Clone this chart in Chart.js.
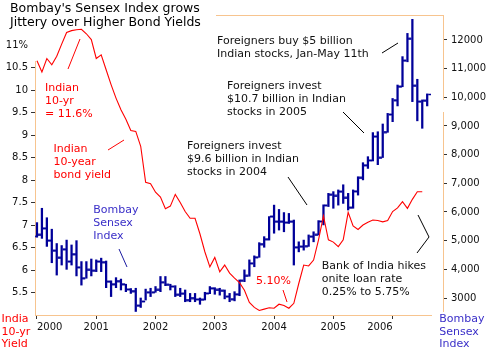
<!DOCTYPE html>
<html>
<head>
<meta charset="utf-8">
<script src="https://cdn.jsdelivr.net/npm/chart.js@4.4.1/dist/chart.umd.min.js"></script>
<style>
html,body{margin:0;padding:0;background:#fff;}
canvas{display:block;}
</style>
</head>
<body>
<canvas id="c" width="489" height="354"></canvas>
<script>
// ---- DATA (monthly, Jan 2000 = month 0) ----
const yearLabels = ['2000','2001','2002','2003','2004','2005','2006'];
const yearTickMonths = [0,12,24,36,48,60,72];
const leftTickValues = [5.5,6,6.5,7,7.5,8,8.5,9,9.5,10,10.5,11];
const leftTickLabels = ['5.5','6','6.5','7','7.5','8','8.5','9','9.5','10','10.5','11%'];
const rightTickValues = [3000,4000,5000,6000,7000,8000,9000,10000,11000,12000];
const rightTickLabels = ['3000','4,000','5,000','6,000','7,000','8,000','9,000','10,000','11,000','12000'];

const sensexOpen = [5150,5200,5430,5000,4650,4400,4700,4270,4530,4070,3690,3980,
 3950,4270,4250,3570,3480,3590,3480,3300,3240,2730,2880,3200,
 3200,3280,3550,3460,3400,3110,3150,2930,3000,2950,2940,3160,
 3340,3280,3250,3050,2960,3130,3600,3770,4210,4420,4880,5050,
 5840,5660,5660,5630,5660,4770,4790,4810,5140,5200,5670,6230,
 6600,6560,6710,6490,6150,6720,7190,7630,7800,8630,7890,8790,
 9400,9900,10370,11280,12040,10400,9850,9880];
const sensexHigh = [5630,6130,5800,5400,4900,4830,5020,4850,5000,4270,4270,4360,
 4330,4390,4290,3600,3710,3660,3480,3330,3340,3000,3310,3340,
 3400,3750,3750,3480,3430,3340,3280,3160,3160,3000,3200,3400,
 3360,3340,3280,3160,3220,3630,3980,4330,4470,4930,5140,5840,
 6240,6090,5980,5950,5720,4960,5020,5200,5310,5700,6250,6650,
 6710,6770,6950,6650,6770,7230,7720,7930,8770,8800,9070,9440,
 9960,10430,11420,12230,12720,10630,9910,10120];
const sensexLow = [5120,5080,4800,4230,3800,4150,4000,4150,3770,3450,3690,3770,
 3920,3920,3360,3050,3360,3280,3220,3160,2530,2670,2930,3050,
 3200,3220,3430,3280,3050,3050,2870,2870,2870,2780,2930,3150,
 3130,3100,2970,2870,2900,3080,3570,3760,4090,4420,4770,5020,
 5260,5370,5310,5600,4150,4610,4670,4800,4960,5200,5550,6190,
 6130,6240,6300,6070,6130,6590,7120,7520,7780,7650,7900,8780,
 9150,9700,10370,11240,9850,9180,8920,9700];
const sensexClose = [5200,5430,5000,4650,4400,4700,4270,4530,4070,3690,3980,3950,
 4270,4250,3570,3480,3590,3480,3300,3240,2730,2880,3200,3200,
 3280,3550,3460,3400,3110,3150,2930,3000,2950,2940,3160,3340,
 3280,3250,3050,2960,3130,3600,3770,4210,4420,4880,5050,5840,
 5660,5660,5630,5660,4770,4790,4810,5140,5200,5670,6230,6600,
 6560,6710,6490,6150,6720,7190,7630,7800,8630,7890,8790,9400,
 9900,10370,11280,12040,10400,9850,9880,10100];
const bondYield = [10.65,10.40,10.70,10.56,10.75,11.02,11.28,11.32,11.34,11.35,11.25,11.12,
 10.70,10.78,10.45,10.12,9.82,9.56,9.35,9.10,9.08,8.75,7.95,7.92,
 7.73,7.62,7.36,7.42,7.68,7.50,7.30,7.15,7.15,6.80,6.40,6.07,
 6.28,5.96,6.11,5.93,5.82,5.72,5.55,5.28,5.17,5.10,5.13,5.16,
 5.15,5.24,5.21,5.15,5.26,5.70,6.11,6.09,6.22,6.67,7.20,6.67,
 6.62,6.52,6.67,7.28,6.98,6.90,7.00,7.06,7.11,7.10,7.07,7.10,
 7.30,7.38,7.52,7.37,7.57,7.74,7.74];

// ---- STYLE ----
const FONT = 'DejaVu Sans';
const AXIS_LINE = '#f7c48f';
const TICK_COL = '#333';
const BAR_COL = '#000099';
const RED = '#ff0000';

function tickImg(side){
  const c = document.createElement('canvas');
  c.width = 8; c.height = 3;
  const g = c.getContext('2d');
  g.fillStyle = BAR_COL;
  if (side === 'left') g.fillRect(0,0.75,3.2,1.5); else g.fillRect(4.8,0.75,3.2,1.5);
  return c;
}

const annotations = {
  id:'annotations',
  beforeDatasetsDraw(chart){
    const g = chart.ctx;
    g.save();
    g.strokeStyle = AXIS_LINE; g.lineWidth = 1;
    g.beginPath();
    g.moveTo(35.5,61); g.lineTo(35.5,315.5);      // left axis
    g.moveTo(35,315.5); g.lineTo(432,315.5);      // bottom axis
    g.moveTo(216,15.5); g.lineTo(443.5,15.5);     // top frame
    g.moveTo(443.5,15); g.lineTo(443.5,100);      // right frame
    g.moveTo(443.5,112); g.lineTo(443.5,312);
    g.stroke();
    g.restore();
  },
  afterDraw(chart){
    const g = chart.ctx;
    g.save();
    function txt(lines, x, y, color, size, lh){
      g.fillStyle = color;
      g.font = size + 'px "' + FONT + '"';
      g.textBaseline = 'alphabetic';
      g.textAlign = 'left';
      lines.forEach((s,i)=> g.fillText(s, x, y + i*lh));
    }
    function line(pts, color){
      g.strokeStyle = color; g.lineWidth = 1;
      g.beginPath();
      g.moveTo(pts[0][0], pts[0][1]);
      for (let i=1;i<pts.length;i++) g.lineTo(pts[i][0], pts[i][1]);
      g.stroke();
    }
    txt(["Bombay's Sensex Index grows","Jittery over Higher Bond Yields"], 10, 12, '#000', 12.5, 14.3);
    txt(['Foreigners buy $5 billion','Indian stocks, Jan-May 11th'], 217, 44.3, '#111', 11, 13);
    line([[382,53],[398,43]], '#000');
    txt(['Foreigners invest','$10.7 billion in Indian','stocks in 2005'], 227, 89.3, '#111', 11, 13);
    line([[343,112],[364,133]], '#000');
    txt(['Foreigners invest','$9.6 billion in Indian','stocks in 2004'], 187, 149.3, '#111', 11, 13);
    line([[288,177],[307,205]], '#000');
    txt(['Indian','10-yr','= 11.6%'], 45, 91, RED, 11, 12.9);
    line([[68,69],[80,39]], RED);
    txt(['Indian','10-year','bond yield'], 53.5, 151.7, RED, 11, 12.9);
    line([[108,150],[124,140]], RED);
    txt(['Bombay','Sensex','Index'], 93.3, 213.3, '#3a2fc8', 11, 12.9);
    line([[119,249],[127,267]], '#1a1aa0');
    txt(['5.10%'], 256, 284, RED, 11, 13);
    line([[283,290],[287,302]], RED);
    txt(['Bank of India hikes','onite loan rate','0.25% to 5.75%'], 321.7, 269, '#111', 11, 13);
    line([[418,215],[429,237],[417,253]], '#000');
    txt(['India','10-yr','Yield'], 1.5, 321.7, RED, 11, 12.8);
    txt(['Bombay','Sensex','Index'], 439.3, 322, '#3a2fc8', 11, 12.6);
    g.restore();
  }
};

Chart.defaults.font.family = FONT;

new Chart(document.getElementById('c'), {
  type:'bar',
  data:{
    datasets:[
      {
        type:'line', label:'Indian 10-year bond yield',
        data: bondYield.map((v,i)=>({x:i, y:v})),
        xAxisID:'x', yAxisID:'yL',
        borderColor:RED, borderWidth:1.1, pointRadius:0, tension:0, fill:false, order:0
      },
      {
        type:'bar', label:'Sensex high-low',
        data: sensexHigh.map((h,i)=>({x:i, y:[sensexLow[i], h]})),
        xAxisID:'x', yAxisID:'yR',
        backgroundColor:BAR_COL, borderWidth:0, barThickness:1.6, order:2
      },
      {
        type:'scatter', label:'Sensex open',
        data: sensexOpen.map((v,i)=>({x:i, y:v})),
        xAxisID:'x', yAxisID:'yR',
        pointStyle: tickImg('left'), pointRadius:4, showLine:false, order:1
      },
      {
        type:'scatter', label:'Sensex close',
        data: sensexClose.map((v,i)=>({x:i, y:v})),
        xAxisID:'x', yAxisID:'yR',
        pointStyle: tickImg('right'), pointRadius:4, showLine:false, order:1
      }
    ]
  },
  options:{
    responsive:false,
    animation:false,
    devicePixelRatio:1,
    layout:{padding:{top:15,left:0,right:0,bottom:0}},
    plugins:{legend:{display:false}, tooltip:{enabled:false}},
    scales:{
      x:{
        type:'linear', position:'bottom', min:-0.4, max:82.2, offset:false,
        afterBuildTicks: s => { s.ticks = yearTickMonths.map(v=>({value:v})); },
        afterFit: s => { s.height = 39; },
        border:{display:false},
        grid:{drawOnChartArea:false, drawTicks:true, tickLength:4, tickColor:TICK_COL, offset:false},
        ticks:{
          autoSkip:false, maxRotation:0, padding:2, color:'#111',
          font:{size:10, family:FONT},
          align:'inner',
          callback:(v,i)=> yearLabels[i]
        }
      },
      yL:{
        type:'linear', position:'left', min:5, max:11.667,
        afterBuildTicks: s => { s.ticks = leftTickValues.map(v=>({value:v})); },
        afterFit: s => { s.width = 35; },
        border:{display:false},
        grid:{drawOnChartArea:false, drawTicks:true, tickLength:4,
              tickColor: c => (c.tick && c.tick.value === 11) ? 'rgba(0,0,0,0)' : TICK_COL},
        ticks:{padding:3, color:'#111', font:{size:10, family:FONT},
               callback:(v,i)=> leftTickLabels[i]}
      },
      yR:{
        type:'linear', position:'right', min:2407, max:12872,
        afterBuildTicks: s => { s.ticks = rightTickValues.map(v=>({value:v})); },
        afterFit: s => { s.width = 46; },
        border:{display:false},
        grid:{drawOnChartArea:false, drawTicks:true, tickLength:4, tickColor:TICK_COL},
        ticks:{padding:4, color:'#111', font:{size:10, family:FONT},
               callback:(v,i)=> rightTickLabels[i]}
      }
    }
  },
  plugins:[annotations]
});
</script>
</body>
</html>
